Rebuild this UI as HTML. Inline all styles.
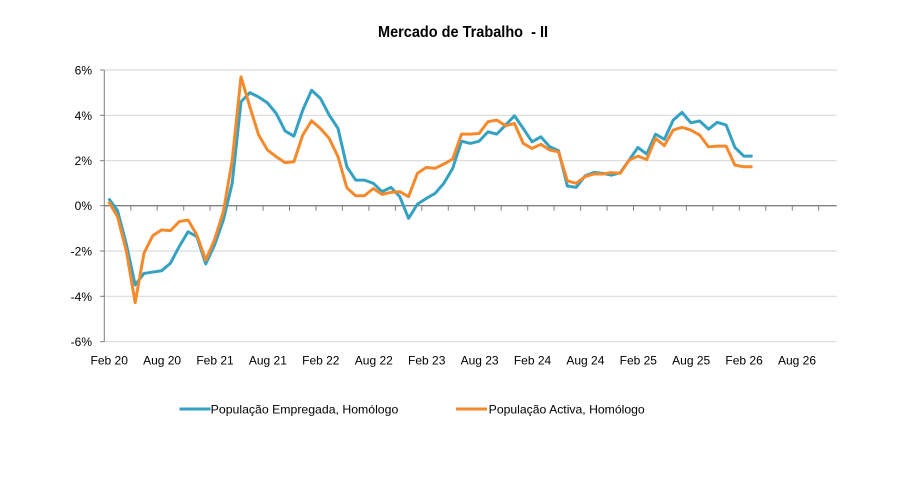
<!DOCTYPE html>
<html>
<head>
<meta charset="utf-8">
<style>
  html,body{margin:0;padding:0;background:#fff;}
  svg{display:block;}
  text{font-family:"Liberation Sans",Arial,sans-serif;fill:#000;}
</style>
</head>
<body>
<svg width="921" height="503" viewBox="0 0 921 503" xmlns="http://www.w3.org/2000/svg">
  <rect x="0" y="0" width="921" height="503" fill="#fff"/>
  <!-- title -->
  <text x="463" y="37" font-size="16" font-weight="bold" text-anchor="middle" textLength="170" lengthAdjust="spacingAndGlyphs" xml:space="preserve" style="white-space:pre">Mercado de Trabalho  - II</text>

  <!-- gridlines -->
  <g stroke="#d9d9d9" stroke-width="1.2">
    <line x1="104.3" y1="70" x2="836.7" y2="70"/>
    <line x1="104.3" y1="115.3" x2="836.7" y2="115.3"/>
    <line x1="104.3" y1="160.7" x2="836.7" y2="160.7"/>
    <line x1="104.3" y1="251" x2="836.7" y2="251"/>
    <line x1="104.3" y1="296.3" x2="836.7" y2="296.3"/>
    <line x1="104.3" y1="341.7" x2="836.7" y2="341.7"/>
  </g>
  <!-- y axis -->
  <g stroke="#7f7f7f" stroke-width="1">
    <line x1="104.3" y1="70" x2="104.3" y2="341.7"/>
    <line x1="100" y1="70" x2="104.3" y2="70"/>
    <line x1="100" y1="115.3" x2="104.3" y2="115.3"/>
    <line x1="100" y1="160.7" x2="104.3" y2="160.7"/>
    <line x1="100" y1="205.7" x2="104.3" y2="205.7"/>
    <line x1="100" y1="251" x2="104.3" y2="251"/>
    <line x1="100" y1="296.3" x2="104.3" y2="296.3"/>
    <line x1="100" y1="341.7" x2="104.3" y2="341.7"/>
  </g>
  <!-- x axis at 0 -->
  <line x1="104.3" y1="205.7" x2="836.7" y2="205.7" stroke="#7f7f7f" stroke-width="1.3"/>
  <g stroke="#7f7f7f" stroke-width="1">
    <line x1="130.8" y1="205.7" x2="130.8" y2="210.7"/>
    <line x1="157.2" y1="205.7" x2="157.2" y2="210.7"/>
    <line x1="183.7" y1="205.7" x2="183.7" y2="210.7"/>
    <line x1="210.1" y1="205.7" x2="210.1" y2="210.7"/>
    <line x1="236.6" y1="205.7" x2="236.6" y2="210.7"/>
    <line x1="263.1" y1="205.7" x2="263.1" y2="210.7"/>
    <line x1="289.5" y1="205.7" x2="289.5" y2="210.7"/>
    <line x1="316.0" y1="205.7" x2="316.0" y2="210.7"/>
    <line x1="342.4" y1="205.7" x2="342.4" y2="210.7"/>
    <line x1="368.9" y1="205.7" x2="368.9" y2="210.7"/>
    <line x1="395.4" y1="205.7" x2="395.4" y2="210.7"/>
    <line x1="421.8" y1="205.7" x2="421.8" y2="210.7"/>
    <line x1="448.3" y1="205.7" x2="448.3" y2="210.7"/>
    <line x1="474.7" y1="205.7" x2="474.7" y2="210.7"/>
    <line x1="501.2" y1="205.7" x2="501.2" y2="210.7"/>
    <line x1="527.7" y1="205.7" x2="527.7" y2="210.7"/>
    <line x1="554.1" y1="205.7" x2="554.1" y2="210.7"/>
    <line x1="580.6" y1="205.7" x2="580.6" y2="210.7"/>
    <line x1="607.0" y1="205.7" x2="607.0" y2="210.7"/>
    <line x1="633.5" y1="205.7" x2="633.5" y2="210.7"/>
    <line x1="660.0" y1="205.7" x2="660.0" y2="210.7"/>
    <line x1="686.4" y1="205.7" x2="686.4" y2="210.7"/>
    <line x1="712.9" y1="205.7" x2="712.9" y2="210.7"/>
    <line x1="739.3" y1="205.7" x2="739.3" y2="210.7"/>
    <line x1="765.8" y1="205.7" x2="765.8" y2="210.7"/>
    <line x1="792.3" y1="205.7" x2="792.3" y2="210.7"/>
    <line x1="818.7" y1="205.7" x2="818.7" y2="210.7"/>
  </g>

  <!-- y labels -->
  <g font-size="12" text-anchor="end">
    <text x="92" y="74.5">6%</text>
    <text x="92" y="119.8">4%</text>
    <text x="92" y="165.2">2%</text>
    <text x="92" y="210.2">0%</text>
    <text x="92" y="255.5">-2%</text>
    <text x="92" y="300.8">-4%</text>
    <text x="92" y="346.2">-6%</text>
  </g>
  <!-- x labels -->
  <g font-size="12" text-anchor="middle">
    <text x="109.2" y="364.5">Feb 20</text>
    <text x="162.1" y="364.5">Aug 20</text>
    <text x="215.0" y="364.5">Feb 21</text>
    <text x="267.9" y="364.5">Aug 21</text>
    <text x="320.8" y="364.5">Feb 22</text>
    <text x="373.8" y="364.5">Aug 22</text>
    <text x="426.7" y="364.5">Feb 23</text>
    <text x="479.6" y="364.5">Aug 23</text>
    <text x="532.5" y="364.5">Feb 24</text>
    <text x="585.4" y="364.5">Aug 24</text>
    <text x="638.3" y="364.5">Feb 25</text>
    <text x="691.2" y="364.5">Aug 25</text>
    <text x="744.1" y="364.5">Feb 26</text>
    <text x="797.0" y="364.5">Aug 26</text>
  </g>

  <!-- series -->
  <g transform="translate(108.71,205.7) scale(8.82,-22.65)" fill="none" stroke-linejoin="round" stroke-linecap="butt">
    <polyline vector-effect="non-scaling-stroke" stroke="#35a2c3" stroke-width="3"
      points="0,0.32 1,-0.22 2,-1.7 3,-3.5 4,-2.99 5,-2.93 6,-2.87 7,-2.54 8,-1.8 9,-1.15 10,-1.37 11,-2.57 12,-1.74 13,-0.63 14,0.99 15,4.59 16,4.99 17,4.8 18,4.54 19,4.07 20,3.3 21,3.07 22,4.22 23,5.1 24,4.74 25,4.0 26,3.41 27,1.72 28,1.13 29,1.13 30,0.99 31,0.62 32,0.81 33,0.4 34,-0.56 35,0.07 36,0.32 37,0.54 38,0.99 39,1.65 40,2.85 41,2.75 42,2.85 43,3.26 44,3.16 45,3.56 46,3.97 47,3.41 48,2.82 49,3.04 50,2.6 51,2.43 52,0.87 53,0.81 54,1.31 55,1.47 56,1.43 57,1.35 58,1.46 59,2.01 60,2.57 61,2.28 62,3.16 63,2.93 64,3.78 65,4.12 66,3.66 67,3.74 68,3.38 69,3.68 70,3.56 71,2.57 72,2.19 73,2.19"/>
    <polyline vector-effect="non-scaling-stroke" stroke="#f58a2d" stroke-width="3"
      points="0,0.18 1,-0.49 2,-2.0 3,-4.28 4,-2.1 5,-1.32 6,-1.07 7,-1.1 8,-0.7 9,-0.63 10,-1.3 11,-2.4 12,-1.5 13,-0.26 14,2.0 15,5.69 16,4.37 17,3.12 18,2.46 19,2.16 20,1.9 21,1.94 22,3.12 23,3.75 24,3.41 25,2.97 26,2.16 27,0.79 28,0.44 29,0.44 30,0.76 31,0.5 32,0.59 33,0.62 34,0.4 35,1.43 36,1.69 37,1.65 38,1.84 39,2.06 40,3.16 41,3.16 42,3.19 43,3.71 44,3.78 45,3.53 46,3.63 47,2.75 48,2.53 49,2.71 50,2.46 51,2.38 52,1.1 53,0.99 54,1.28 55,1.4 56,1.4 57,1.46 58,1.43 59,2.01 60,2.19 61,2.04 62,2.97 63,2.65 64,3.34 65,3.46 66,3.34 67,3.12 68,2.6 69,2.63 70,2.63 71,1.79 72,1.72 73,1.72"/>
  </g>

  <!-- legend -->
  <line x1="179.5" y1="409" x2="210.5" y2="409" stroke="#35a2c3" stroke-width="3"/>
  <text x="210.7" y="413.5" font-size="12" textLength="187.6" lengthAdjust="spacingAndGlyphs">População Empregada, Homólogo</text>
  <line x1="456" y1="409" x2="487" y2="409" stroke="#f58a2d" stroke-width="3"/>
  <text x="488.7" y="413.5" font-size="12" textLength="156" lengthAdjust="spacingAndGlyphs">População Activa, Homólogo</text>
</svg>
</body>
</html>
